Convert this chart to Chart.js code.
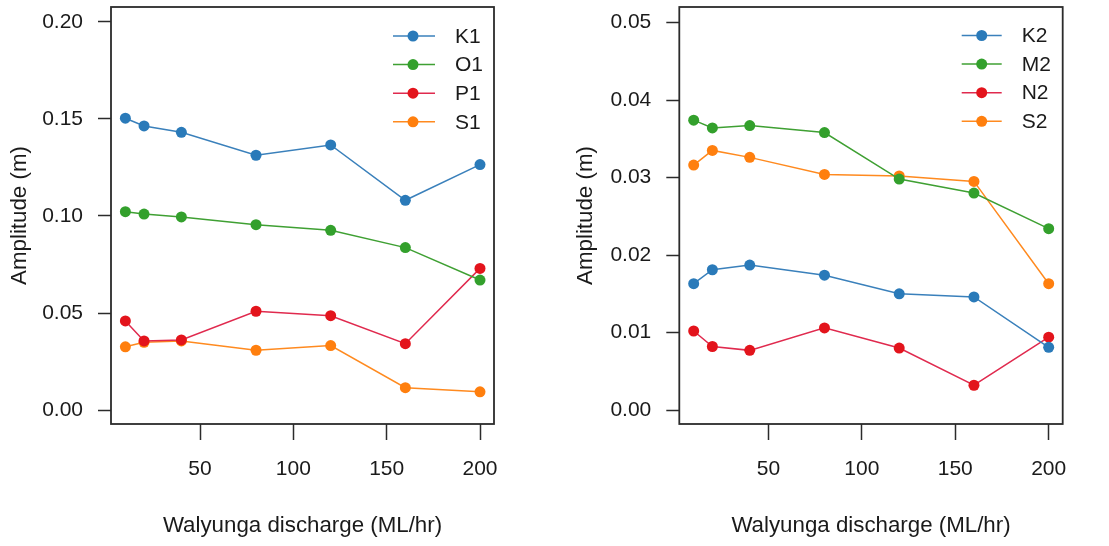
<!DOCTYPE html>
<html>
<head>
<meta charset="utf-8">
<script src="https://cdn.jsdelivr.net/npm/chart.js@4"></script>
<style>
  html, body { margin: 0; padding: 0; background: #fff; }
  body { width: 1109px; height: 546px; position: relative; overflow: hidden; }
  canvas { position: absolute; top: 0; }
  #c1 { left: 0; }
  #c2 { left: 554px; }
</style>
</head>
<body>
<canvas id="c1" width="554" height="546"></canvas>
<canvas id="c2" width="555" height="546"></canvas>
<script>
// ---- data ----
const discharge = [10, 20, 40, 80, 120, 160, 200];
const xTicks = [50, 100, 150, 200];

const diurnalNames = ['K1', 'O1', 'P1', 'S1'];
const K1 = [0.1504, 0.1464, 0.1431, 0.1313, 0.1366, 0.1081, 0.1265];
const O1 = [0.1022, 0.1010, 0.0995, 0.0955, 0.0926, 0.0837, 0.0670];
const P1 = [0.0459, 0.0356, 0.0361, 0.0509, 0.0486, 0.0342, 0.0730];
const S1 = [0.0326, 0.0349, 0.0356, 0.0308, 0.0332, 0.0115, 0.0094];
const leftYTicks = [0.00, 0.05, 0.10, 0.15, 0.20];

const semidiurnalNames = ['K2', 'M2', 'N2', 'S2'];
const K2 = [0.0163, 0.0181, 0.0187, 0.0174, 0.0150, 0.0146, 0.0081];
const M2 = [0.0374, 0.0364, 0.0367, 0.0358, 0.0298, 0.0280, 0.0234];
const N2 = [0.0102, 0.0082, 0.0077, 0.0106, 0.0080, 0.0032, 0.0094];
const S2 = [0.0316, 0.0335, 0.0326, 0.0304, 0.0302, 0.0295, 0.0163];
const rightYTicks = [0.00, 0.01, 0.02, 0.03, 0.04, 0.05];

const markerColors = ['#2a7ab9', '#33a02c', '#e3141c', '#ff7f0e'];
const lineColors = ['#3a80bb', '#3fa033', '#e02a4e', '#ff8a1f'];

// ---- helpers ----
const FONT = 'Liberation Sans, Arial, sans-serif';
const TEXT = '#1a1a1a';

function makeDatasets(names, arrays) {
  return names.map((n, i) => ({
    label: n,
    data: discharge.map((x, j) => ({ x: x, y: arrays[i][j] })),
    borderColor: lineColors[i],
    backgroundColor: markerColors[i],
    pointBackgroundColor: markerColors[i],
    pointBorderWidth: 0,
    pointRadius: 5.5,
    borderWidth: 1.5,
    tension: 0
  }));
}

const boxAndLegend = {
  id: 'boxAndLegend',
  afterDraw(chart) {
    const ctx = chart.ctx;
    const a = chart.chartArea;
    ctx.save();
    ctx.strokeStyle = '#2b2b2b';
    ctx.lineWidth = 1.8;
    ctx.strokeRect(a.left, a.top, a.right - a.left, a.bottom - a.top);
    // legend
    const cfg = chart.options.plugins.boxLegend;
    chart.data.datasets.forEach((ds, i) => {
      const y = a.top + cfg.top + i * cfg.spacing;
      ctx.strokeStyle = ds.borderColor;
      ctx.lineWidth = 1.5;
      ctx.beginPath();
      ctx.moveTo(a.right - cfg.lineStart, y);
      ctx.lineTo(a.right - cfg.lineEnd, y);
      ctx.stroke();
      ctx.fillStyle = ds.pointBackgroundColor;
      ctx.beginPath();
      ctx.arc(a.right - cfg.marker, y, 5.5, 0, Math.PI * 2);
      ctx.fill();
      ctx.fillStyle = TEXT;
      ctx.font = '21px ' + FONT;
      ctx.textAlign = 'left';
      ctx.textBaseline = 'middle';
      ctx.fillText(ds.label, a.right - cfg.text, y + 1);
    });
    ctx.restore();
  }
};

function makeChart(id, names, arrays, yTicks, yMin, yMax, yWidth, padRight, yTitlePad, legendCfg) {
  return new Chart(document.getElementById(id), {
    type: 'line',
    data: { datasets: makeDatasets(names, arrays) },
    options: {
      responsive: false,
      animation: false,
      devicePixelRatio: 1,
      layout: { padding: { left: 0, right: padRight, top: 7, bottom: 0 } },
      plugins: {
        legend: { display: false },
        tooltip: { enabled: false },
        boxLegend: legendCfg
      },
      scales: {
        x: {
          type: 'linear',
          min: 2.3,
          max: 207.5,
          afterBuildTicks: s => { s.ticks = xTicks.map(v => ({ value: v })); },
          afterFit: s => { s.height = 122; s.paddingLeft = 0; s.paddingRight = 0; },
          grid: { drawOnChartArea: false, drawTicks: true, tickLength: 16, color: '#2b2b2b', tickWidth: 1.5 },
          border: { display: false },
          ticks: { color: TEXT, font: { size: 21, family: FONT }, padding: 16.7, maxRotation: 0, autoSkip: false },
          title: { display: true, text: 'Walyunga discharge (ML/hr)', color: TEXT, font: { size: 22.3, family: FONT }, padding: { top: 0, bottom: 7 } }
        },
        y: {
          type: 'linear',
          min: yMin,
          max: yMax,
          afterBuildTicks: s => { s.ticks = yTicks.map(v => ({ value: v })); },
          afterFit: s => { s.width = yWidth; s.paddingTop = 0; s.paddingBottom = 0; },
          grid: { drawOnChartArea: false, drawTicks: true, tickLength: 13, color: '#2b2b2b', tickWidth: 1.5 },
          border: { display: false },
          ticks: { color: TEXT, font: { size: 21, family: FONT }, padding: 15, autoSkip: false, callback: v => Number(v).toFixed(2) },
          title: { display: true, text: 'Amplitude (m)', color: TEXT, font: { size: 22.3, family: FONT }, padding: { top: yTitlePad, bottom: 0 } }
        }
      }
    },
    plugins: [boxAndLegend]
  });
}

makeChart('c1', diurnalNames, [K1, O1, P1, S1], leftYTicks, -0.0072, 0.2077, 111, 60, 6.5,
  { top: 29, spacing: 28.6, lineStart: 101, lineEnd: 59, marker: 81, text: 39 });
makeChart('c2', semidiurnalNames, [K2, M2, N2, S2], rightYTicks, -0.0018, 0.0520, 125.3, 46.3, 18.5,
  { top: 28.5, spacing: 28.6, lineStart: 101, lineEnd: 61, marker: 81, text: 41 });
</script>
</body>
</html>
